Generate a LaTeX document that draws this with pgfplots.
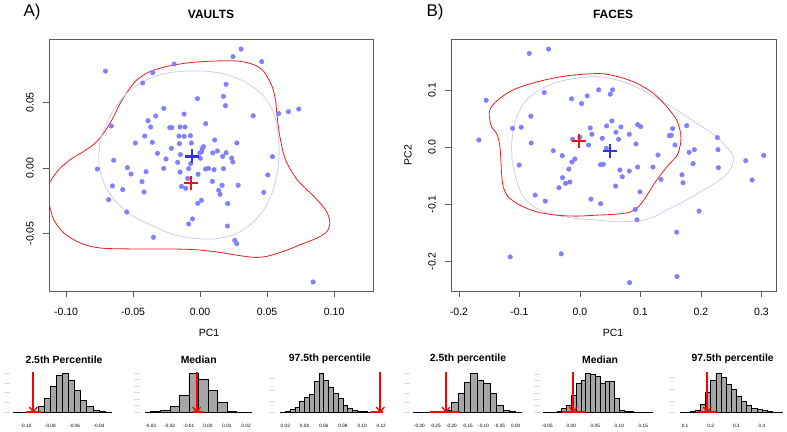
\documentclass[border=0pt]{standalone}
\usepackage{fontspec}
\setmainfont{Liberation Sans}
\usepackage{pgfplots}
\pgfplotsset{compat=1.18}
\definecolor{ptcol}{RGB}{128,128,255}
\definecolor{lav}{RGB}{205,205,242}
\definecolor{redc}{RGB}{232,30,30}
\definecolor{crossblue}{RGB}{50,50,235}
\definecolor{crossred}{RGB}{238,20,20}
\definecolor{histgray}{RGB}{165,165,165}
\definecolor{framegray}{RGB}{90,90,90}
\definecolor{arrred}{RGB}{255,0,0}
\pgfplotsset{
 scat/.style={scale only axis, anchor=south west, height=252pt, scaled ticks=false,
   axis line style={framegray, line width=0.7pt}, tick pos=left, tick align=outside,
   major tick length=6pt, tick style={framegray, line width=0.7pt},
   ticklabel style={font=\fontsize{10.5}{12}\selectfont},
   xticklabel style={anchor=center, yshift=-15pt},
   yticklabel style={xshift=-13pt, rotate=90, anchor=center}},
 hist/.style={scale only axis, anchor=south west, height=43.33pt, ymin=0, ymax=130,
   scaled ticks=false,
   axis line style={draw=none}, tick pos=left, tick align=outside,
   xtick style={draw=none}, ytick style={gray!30, line width=0.5pt}, major tick length=6pt,
   yticklabels={}, xticklabel style={font=\fontsize{4.7}{5}\selectfont, anchor=center, yshift=-8pt},
   clip=false},
 bars/.style={ybar interval, fill=histgray, draw=black, line width=0.5pt},
 base/.style={sharp plot, mark=none, draw=black, line width=0.6pt},
 redseg/.style={sharp plot, mark=none, draw=arrred, line width=1.8pt},
 shaft/.style={sharp plot, mark=none, draw=arrred, line width=1.9pt},
 head/.style={sharp plot, mark=none, draw=arrred, line width=1.3pt, line join=miter}
}
\begin{document}
\begin{tikzpicture}
\path[use as bounding box] (0,0) rectangle (787pt,431pt);
% ---------------- Panel A
\begin{axis}[scat, at={(49pt,140pt)}, width=324pt,
  xmin=-0.1127, xmax=0.129, ymin=-0.0939, ymax=0.0985,
  xtick={-0.1,-0.05,0,0.05,0.1}, xticklabels={-0.10,-0.05,0.00,0.05,0.10},
  ytick={-0.05,0,0.05}, yticklabels={-0.05,0.00,0.05}]
\addplot[redc, line width=0.8pt, smooth] coordinates {
(-0.1167,-0.0191) (-0.1122,-0.0109) (-0.1055,-0.0013) (-0.0968,0.0064) (-0.0868,0.0127)
(-0.0781,0.0191) (-0.0719,0.0267) (-0.0657,0.0369) (-0.0595,0.0496) (-0.0532,0.0598)
(-0.0470,0.0674) (-0.0371,0.0738) (-0.0246,0.0776) (-0.0097,0.0802) (0.0052,0.0814)
(0.0201,0.0819) (0.0301,0.0814) (0.0400,0.0789) (0.0475,0.0738) (0.0537,0.0623)
(0.0562,0.0522) (0.0575,0.0394) (0.0595,0.0242) (0.0637,0.0064) (0.0724,-0.0089)
(0.0848,-0.0216) (0.0935,-0.0318) (0.0968,-0.0407) (0.0948,-0.0483) (0.0873,-0.0534)
(0.0749,-0.0585) (0.0624,-0.0636) (0.0500,-0.0674) (0.0400,-0.0682) (0.0251,-0.0662)
(0.0127,-0.0641) (-0.0047,-0.0623) (-0.0246,-0.0618) (-0.0495,-0.0618) (-0.0744,-0.0611)
(-0.0893,-0.0573) (-0.1017,-0.0496) (-0.1092,-0.0394) (-0.1122,-0.0293) (-0.1167,-0.0191)};
\addplot[lav, line width=0.8pt, smooth] coordinates {
(-0.0756,0.0089) (-0.0744,0.0216) (-0.0706,0.0318) (-0.0644,0.0445) (-0.0545,0.0573)
(-0.0420,0.0662) (-0.0271,0.0720) (-0.0097,0.0740) (0.0052,0.0738) (0.0201,0.0712)
(0.0351,0.0649) (0.0475,0.0547) (0.0550,0.0420) (0.0580,0.0267) (0.0590,0.0115)
(0.0575,-0.0038) (0.0537,-0.0191) (0.0475,-0.0318) (0.0376,-0.0433) (0.0251,-0.0509)
(0.0102,-0.0542) (-0.0047,-0.0537) (-0.0197,-0.0509) (-0.0346,-0.0445) (-0.0495,-0.0369)
(-0.0619,-0.0267) (-0.0706,-0.0140) (-0.0749,-0.0013) (-0.0756,0.0089)};
\addplot[only marks, mark=*, mark size=2.3pt, mark options={draw=ptcol, fill=ptcol}] table {
x y
-0.0706 0.0740
-0.0353 0.0728
-0.0194 0.0794
-0.0428 0.0649
0.0246 0.0850
0.0306 0.0908
0.0460 0.0812
0.0194 0.0639
-0.0020 0.0529
0.0174 0.0547
0.0189 0.0476
0.0396 0.0399
0.0587 0.0415
0.0659 0.0430
0.0736 0.0450
-0.0271 0.0455
-0.0331 0.0397
-0.0119 0.0412
-0.0388 0.0361
-0.0662 0.0321
-0.0368 0.0313
-0.0226 0.0308
-0.0211 0.0308
-0.0149 0.0313
-0.0112 0.0313
0.0042 0.0338
-0.0413 0.0244
-0.0157 0.0244
-0.0119 0.0242
-0.0072 0.0247
0.0109 0.0214
-0.0483 0.0191
-0.0356 0.0196
-0.0154 0.0186
-0.0065 0.0191
-0.0214 0.0150
0.0025 0.0163
0.0017 0.0148
0.0129 0.0130
0.0095 0.0115
0.0194 0.0117
0.0274 0.0191
-0.0318 0.0112
-0.0147 0.0102
-0.0002 0.0115
0.0012 0.0125
0.0169 0.0089
0.0236 0.0076
0.0540 0.0087
-0.0254 0.0069
-0.0167 0.0043
-0.0070 0.0033
0.0002 0.0074
0.0244 0.0046
-0.0644 0.0059
-0.0766 -0.0008
-0.0542 0.0003
-0.0515 -0.0046
-0.0403 -0.0028
-0.0271 -0.0003
-0.0149 -0.0031
-0.0085 -0.0005
-0.0015 -0.0048
0.0040 -0.0008
0.0062 -0.0003
0.0104 -0.0013
0.0174 -0.0005
0.0505 -0.0053
-0.0433 -0.0104
-0.0654 -0.0137
-0.0577 -0.0165
-0.0418 -0.0183
-0.0139 -0.0140
-0.0107 -0.0155
0.0092 -0.0102
0.0164 -0.0132
0.0139 -0.0170
0.0149 -0.0201
0.0284 -0.0132
0.0475 -0.0186
-0.0682 -0.0242
0.0010 -0.0247
-0.0017 -0.0270
0.0206 -0.0272
-0.0547 -0.0336
-0.0057 -0.0389
-0.0085 -0.0427
0.0204 -0.0443
-0.0348 -0.0529
0.0259 -0.0552
0.0274 -0.0578
0.0843 -0.0870
-0.0092 -0.0079
};
\addplot[only marks, mark=+, mark size=7pt, mark options={line width=2.7pt, draw=crossblue}] coordinates {(-0.0060,0.0089)};
\addplot[only marks, mark=+, mark size=7pt, mark options={line width=2.7pt, draw=crossred}] coordinates {(-0.0067,-0.0115)};
\end{axis}
% ---------------- Panel B
\begin{axis}[scat, at={(451pt,140pt)}, width=325pt,
  xmin=-0.213, xmax=0.324, ymin=-0.252, ymax=0.19,
  xtick={-0.2,-0.1,0,0.1,0.2,0.3}, xticklabels={-0.2,-0.1,0.0,0.1,0.2,0.3},
  ytick={-0.2,-0.1,0,0.1}, yticklabels={-0.2,-0.1,0.0,0.1}]
\addplot[lav, line width=0.8pt, smooth] coordinates {
(-0.1130,0.0012) (-0.1102,0.0305) (-0.1019,0.0598) (-0.0882,0.0832) (-0.0661,0.1008)
(-0.0386,0.1143) (-0.0055,0.1213) (0.0276,0.1242) (0.0606,0.1184) (0.0937,0.1055)
(0.1267,0.0861) (0.1598,0.0656) (0.1929,0.0422) (0.2259,0.0188) (0.2507,-0.0105)
(0.2535,-0.0223) (0.2480,-0.0398) (0.2314,-0.0574) (0.2039,-0.0750) (0.1708,-0.0955)
(0.1433,-0.1102) (0.1157,-0.1248) (0.0937,-0.1289) (0.0606,-0.1307) (0.0276,-0.1277)
(-0.0055,-0.1248) (-0.0386,-0.1190) (-0.0716,-0.1072) (-0.0937,-0.0867) (-0.1047,-0.0574)
(-0.1113,-0.0281) (-0.1130,0.0012)};
\addplot[redc, line width=0.8pt, smooth] coordinates {
(-0.1488,0.0480) (-0.1499,0.0598) (-0.1460,0.0715) (-0.1322,0.0861) (-0.1102,0.1008)
(-0.0827,0.1113) (-0.0496,0.1201) (-0.0165,0.1260) (0.0165,0.1289) (0.0386,0.1289)
(0.0661,0.1231) (0.0937,0.1125) (0.1212,0.0949) (0.1433,0.0715) (0.1598,0.0480)
(0.1664,0.0246) (0.1664,0.0070) (0.1609,-0.0135) (0.1488,-0.0281) (0.1350,-0.0457)
(0.1212,-0.0662) (0.1074,-0.0897) (0.0964,-0.1043) (0.0827,-0.1137) (0.0606,-0.1172)
(0.0276,-0.1190) (-0.0055,-0.1207) (-0.0386,-0.1190) (-0.0716,-0.1131) (-0.0992,-0.1014)
(-0.1185,-0.0867) (-0.1267,-0.0691) (-0.1295,-0.0457) (-0.1306,-0.0223) (-0.1322,0.0012)
(-0.1366,0.0217) (-0.1460,0.0363) (-0.1488,0.0480)};
\addplot[only marks, mark=*, mark size=2.3pt, mark options={draw=ptcol, fill=ptcol}] table {
x y
-0.0838 0.1647
-0.0518 0.1723
-0.1549 0.0826
-0.0590 0.0961
-0.0138 0.0850
0.0028 0.0768
0.0121 0.0902
0.0309 0.1008
0.0540 0.1008
0.0501 0.0932
-0.0810 0.0545
-0.1113 0.0334
-0.0970 0.0352
-0.1670 0.0129
-0.0805 0.0076
-0.0121 0.0141
0.0000 0.0176
0.0143 0.0041
0.0171 0.0340
0.0198 0.0229
0.0369 0.0158
0.0441 0.0375
0.0529 0.0463
0.0678 0.0357
0.0595 0.0264
0.0639 0.0141
0.0816 0.0229
0.0926 0.0059
0.0954 0.0398
0.1003 0.0363
0.0435 -0.0018
-0.0441 -0.0059
-0.0292 -0.0147
-0.0083 -0.0205
-0.0132 -0.0258
-0.0182 -0.0381
-0.0287 -0.0533
-0.0237 -0.0633
-0.0165 -0.0609
-0.0347 -0.0709
-0.1003 -0.0311
-0.0739 -0.0838
-0.0573 -0.0943
0.0342 -0.0305
0.0386 -0.0299
0.0661 -0.0398
0.0700 -0.0516
0.0590 -0.0680
0.0816 -0.0416
0.0954 -0.0346
0.0992 -0.0780
0.1290 -0.0135
0.1207 -0.0346
0.1340 -0.0563
0.0182 -0.0908
0.0342 -0.0990
0.0915 -0.1090
0.0943 -0.1271
0.1477 0.0205
0.1510 0.0211
0.1532 0.0328
0.1571 0.0041
0.1764 0.0381
0.1803 -0.0088
0.1891 -0.0041
0.1869 -0.0287
0.1687 -0.0481
0.1703 -0.0621
0.2271 0.0170
0.2282 -0.0041
0.2288 -0.0357
0.2740 -0.0234
0.2845 -0.0574
0.3037 -0.0141
0.1968 -0.1119
0.1599 -0.1488
0.1604 -0.2267
0.0821 -0.2373
-0.0309 -0.1869
-0.1152 -0.1922
};
\addplot[only marks, mark=+, mark size=7pt, mark options={line width=2.7pt, draw=crossred}] coordinates {(-0.0017,0.0111)};
\addplot[only marks, mark=+, mark size=7pt, mark options={line width=2.7pt, draw=crossblue}] coordinates {(0.0496,-0.0064)};
\end{axis}
% ---------------- Histograms A
\begin{axis}[hist, at={(10pt,19pt)}, width=110pt, xmin=-0.1132, xmax=-0.0226,
  xtick={-0.1,-0.08,-0.06,-0.04}, xticklabels={-0.10,-0.08,-0.06,-0.04}, ytick={0,29,58,87,116}]
\addplot[bars] coordinates {(-0.095,3) (-0.09,17) (-0.085,41) (-0.08,77) (-0.075,111) (-0.07,117) (-0.065,96) (-0.06,65) (-0.055,35) (-0.05,16) (-0.045,6) (-0.04,3) (-0.035,0)};
\addplot[base] coordinates {(-0.1104,0) (-0.0295,0)};
\addplot[redseg] coordinates {(-0.100,0) (-0.088,0)};
\addplot[shaft] coordinates {(-0.094,121) (-0.094,1)};
\addplot[head] coordinates {(-0.0973,15) (-0.094,0.5) (-0.0907,15)};
\end{axis}
\begin{axis}[hist, at={(140pt,19pt)}, width=115pt, xmin=-0.0356, xmax=0.0247,
  xtick={-0.03,-0.02,-0.01,0,0.01,0.02}, xticklabels={-0.03,-0.02,-0.01,0.00,0.01,0.02}, ytick={0,19.5,39,58.5,78,97.5,117}]
\addplot[bars] coordinates {(-0.03,1) (-0.025,4) (-0.02,17) (-0.015,49) (-0.01,117) (-0.005,98) (0,65) (0.005,29) (0.01,3) (0.015,0)};
\addplot[base] coordinates {(-0.033,0) (0.023,0)};
\addplot[redseg] coordinates {(-0.008,0) (-0.0025,0)};
\addplot[shaft] coordinates {(-0.0059,121) (-0.0059,1)};
\addplot[head] coordinates {(-0.0080,15) (-0.0059,0.5) (-0.0038,15)};
\end{axis}
\begin{axis}[hist, at={(275pt,19pt)}, width=115pt, xmin=0.00927, xmax=0.1291,
  xtick={0.02,0.04,0.06,0.08,0.1,0.12}, xticklabels={0.02,0.04,0.06,0.08,0.10,0.12}, ytick={0,33,66,100}]
\addplot[bars] coordinates {(0.02,3) (0.025,7) (0.03,15) (0.035,32) (0.04,44) (0.045,54) (0.05,92) (0.055,117) (0.06,94) (0.065,73) (0.07,56) (0.075,40) (0.08,21) (0.085,11) (0.09,6) (0.095,3) (0.1,1) (0.105,0)};
\addplot[base] coordinates {(0.0145,0) (0.1117,0)};
\addplot[redseg] coordinates {(0.109,0) (0.122,0)};
\addplot[shaft] coordinates {(0.119,121) (0.119,1)};
\addplot[head] coordinates {(0.1148,15) (0.119,0.5) (0.1232,15)};
\end{axis}
% ---------------- Histograms B
\begin{axis}[hist, at={(410pt,19pt)}, width=115pt, xmin=-0.3289, xmax=0.0289,
  xtick={-0.3,-0.25,-0.2,-0.15,-0.1,-0.05,0}, xticklabels={-0.30,-0.25,-0.20,-0.15,-0.10,-0.05,0.00}, ytick={0,28,57,86,115}]
\addplot[bars] coordinates {(-0.26,1) (-0.24,2) (-0.22,6) (-0.2,30) (-0.18,57) (-0.16,89) (-0.14,117) (-0.12,96) (-0.1,86) (-0.08,57) (-0.06,20) (-0.04,6) (-0.02,2) (0,0)};
\addplot[base] coordinates {(-0.3189,0) (0.0187,0)};
\addplot[redseg] coordinates {(-0.267,0) (-0.173,0)};
\addplot[shaft] coordinates {(-0.217,121) (-0.217,1)};
\addplot[head] coordinates {(-0.2294,15) (-0.217,0.5) (-0.2046,15)};
\end{axis}
\begin{axis}[hist, at={(540pt,19pt)}, width=120pt, xmin=-0.0652, xmax=0.1848,
  xtick={-0.05,0,0.05,0.1,0.15}, xticklabels={-0.05,0.00,0.05,0.10,0.15}, ytick={0,19,38,57,76,95,114}]
\addplot[bars] coordinates {(-0.03,3) (-0.02,11) (-0.01,21) (0,51) (0.01,85) (0.02,96) (0.03,117) (0.04,113) (0.05,106) (0.06,87) (0.07,92) (0.08,91) (0.09,41) (0.1,6) (0.11,3) (0.12,1) (0.13,0)};
\addplot[base] coordinates {(-0.0581,0) (0.1708,0)};
\addplot[redseg] coordinates {(-0.019,0) (0.030,0)};
\addplot[shaft] coordinates {(0.004,121) (0.004,1)};
\addplot[head] coordinates {(-0.0043,15) (0.004,0.5) (0.0123,15)};
\end{axis}
\begin{axis}[hist, at={(675pt,19pt)}, width=112pt, xmin=0.061, xmax=0.4974,
  xtick={0.1,0.2,0.3,0.4}, xticklabels={0.1,0.2,0.3,0.4}, ytick={0,33,68,103}]
\addplot[bars] coordinates {(0.12,2) (0.14,5) (0.16,23) (0.18,58) (0.2,94) (0.22,117) (0.24,103) (0.26,84) (0.28,68) (0.3,48) (0.32,33) (0.34,20) (0.36,12) (0.38,8) (0.4,5) (0.42,3) (0.44,0)};
\addplot[base] coordinates {(0.0805,0) (0.483,0)};
\addplot[redseg] coordinates {(0.152,0) (0.230,0)};
\addplot[shaft] coordinates {(0.187,121) (0.187,1)};
\addplot[head] coordinates {(0.1714,15) (0.187,0.5) (0.2026,15)};
\end{axis}
% ---------------- Text
\node[font=\fontsize{17}{19}\selectfont] at (32pt,418.5pt) {A)};
\node[font=\fontsize{17}{19}\selectfont] at (435pt,418.5pt) {B)};
\node[font=\fontsize{12}{14}\selectfont\bfseries] at (211pt,417pt) {VAULTS};
\node[font=\fontsize{12}{14}\selectfont\bfseries] at (613pt,417pt) {FACES};
\node[font=\fontsize{10.5}{12}\selectfont] at (209pt,98pt) {PC1};
\node[font=\fontsize{10.5}{12}\selectfont] at (613pt,98pt) {PC1};
\node[font=\fontsize{10.5}{12}\selectfont, rotate=90] at (408pt,276pt) {PC2};
\node[font=\fontsize{10.4}{12}\selectfont\bfseries] at (64pt,71.7pt) {2.5th Percentile};
\node[font=\fontsize{10.4}{12}\selectfont\bfseries] at (198.7pt,71.7pt) {Median};
\node[font=\fontsize{10.4}{12}\selectfont\bfseries] at (330pt,71.7pt) {97.5th percentile};
\node[font=\fontsize{10.4}{12}\selectfont\bfseries] at (468pt,71.7pt) {2.5th percentile};
\node[font=\fontsize{10.4}{12}\selectfont\bfseries] at (600pt,71.7pt) {Median};
\node[font=\fontsize{10.4}{12}\selectfont\bfseries] at (732.7pt,71.7pt) {97.5th percentile};
\end{tikzpicture}
\end{document}
